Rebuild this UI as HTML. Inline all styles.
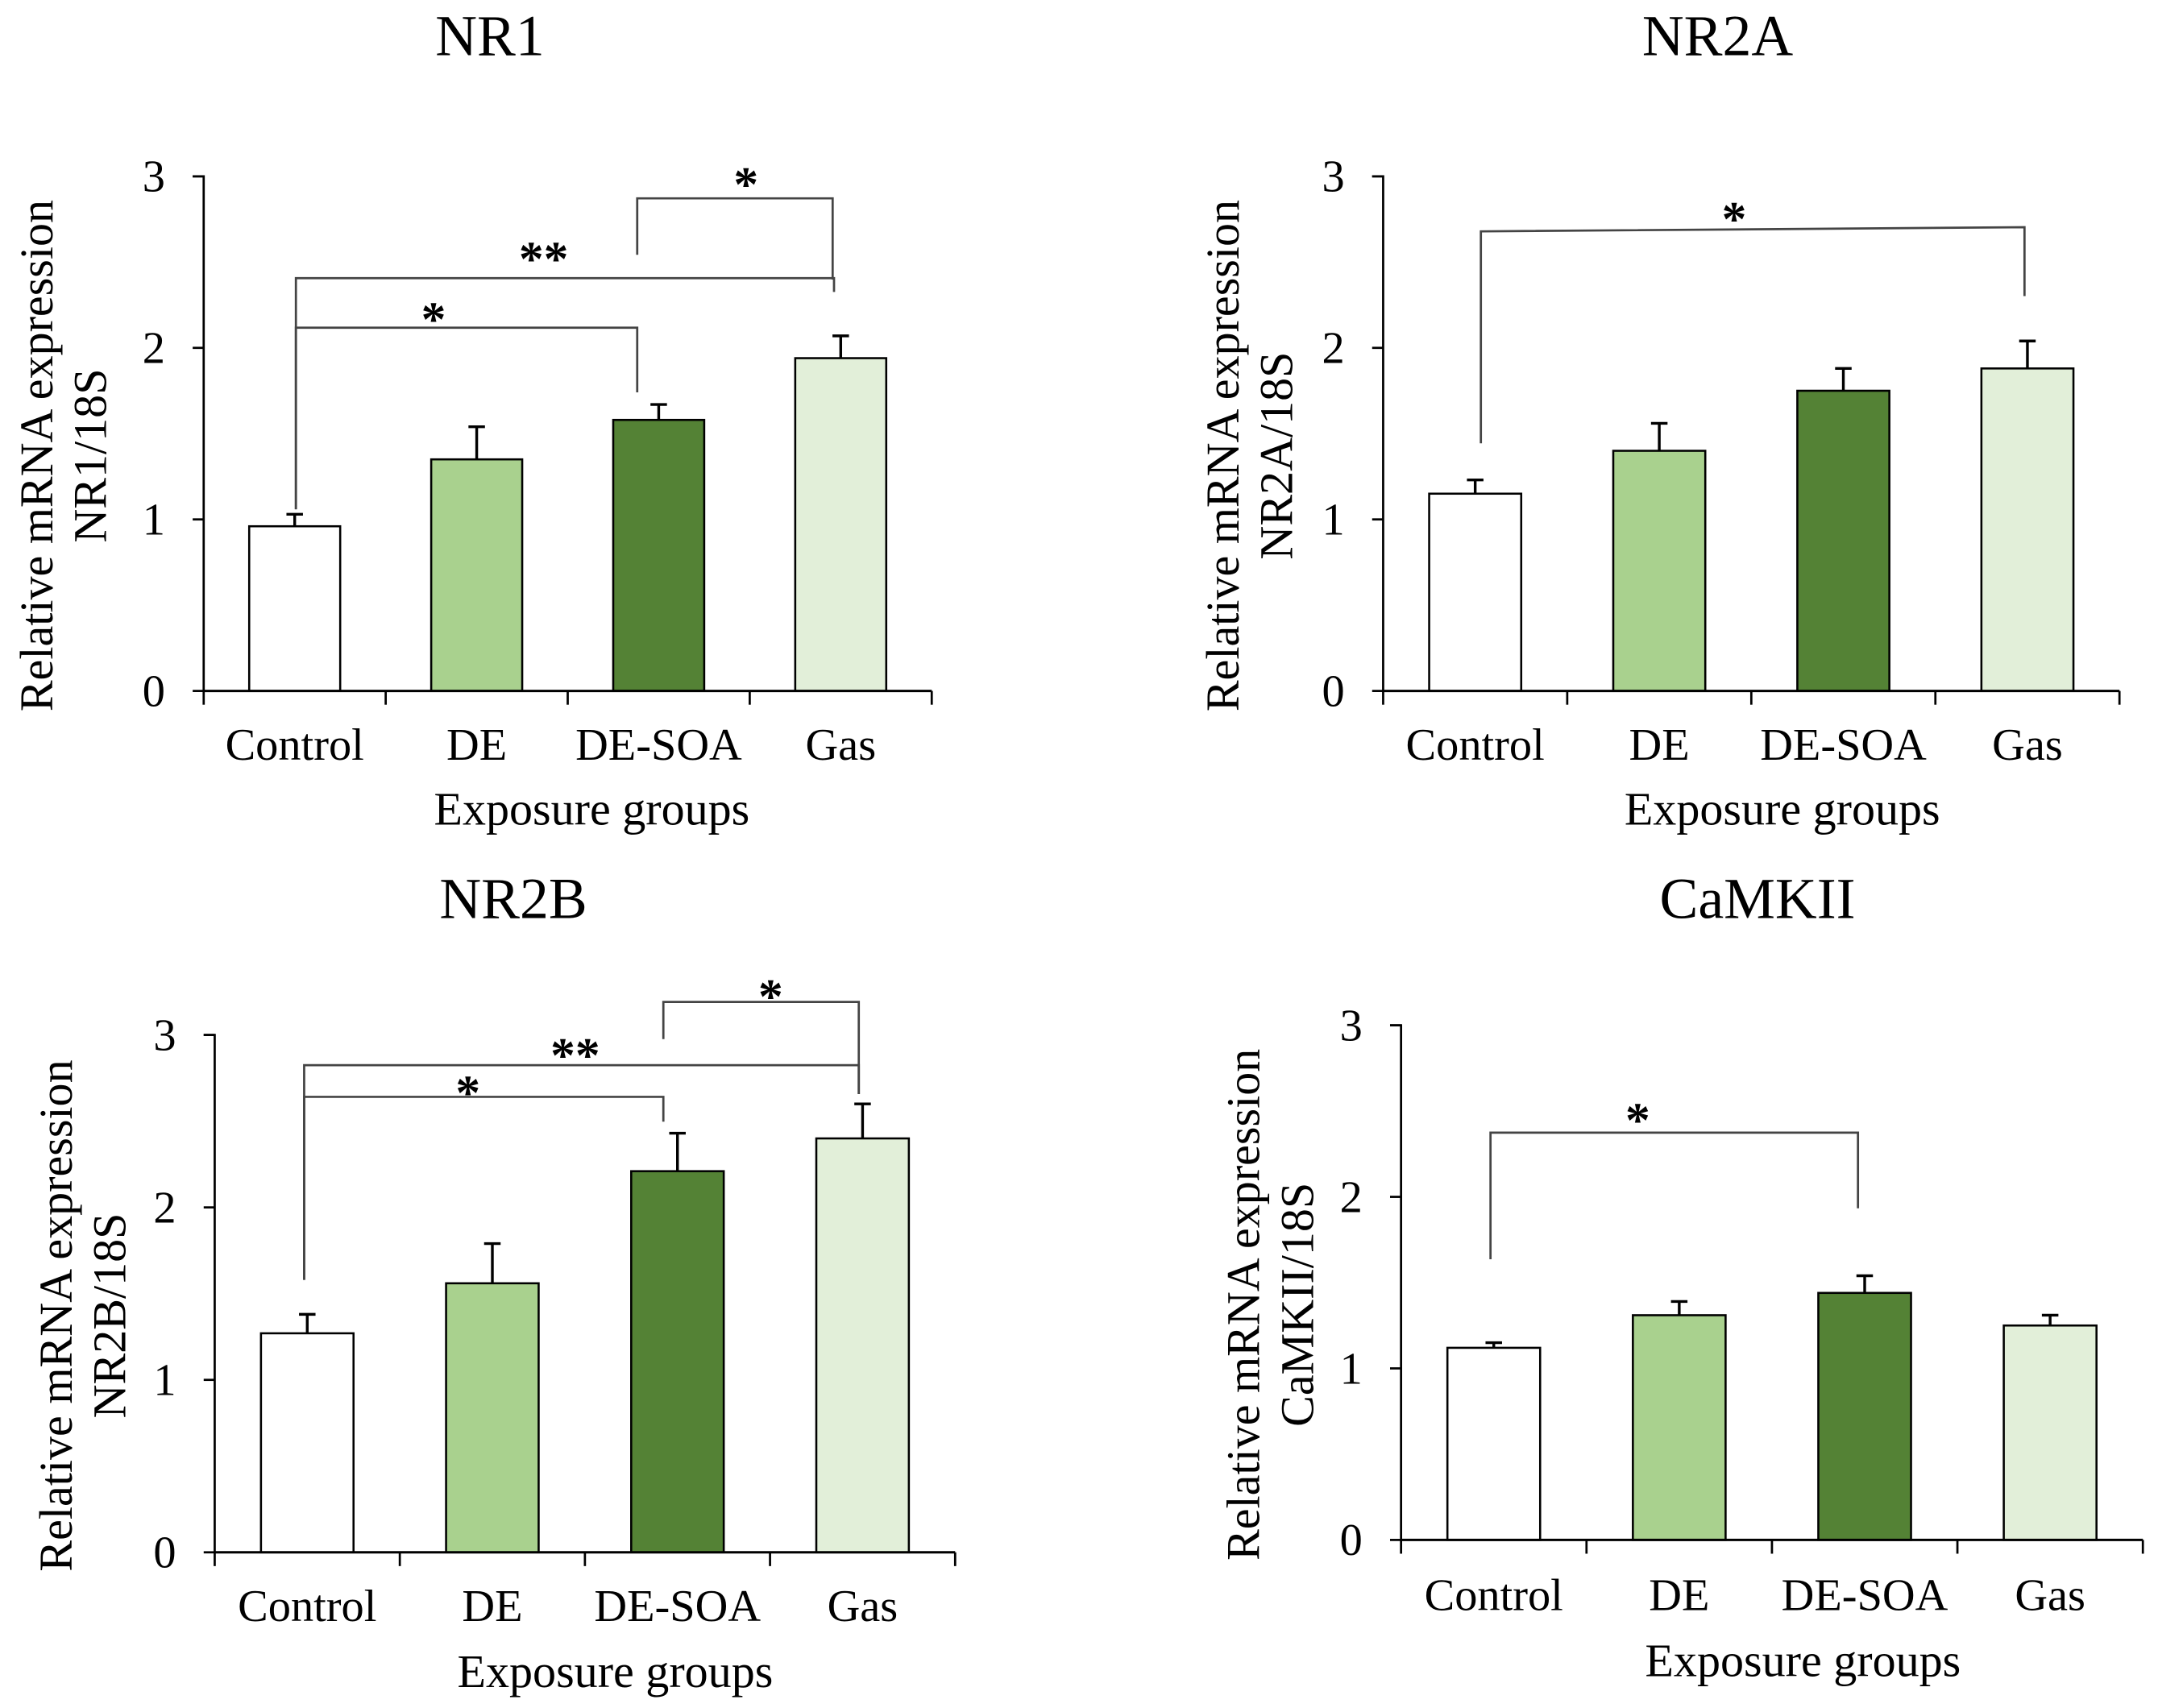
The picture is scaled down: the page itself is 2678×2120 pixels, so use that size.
<!DOCTYPE html>
<html><head><meta charset="utf-8"><style>
html,body{margin:0;padding:0;background:#fff}
svg{display:block}
text{font-family:"Liberation Serif",serif;fill:#000}
</style></head><body>
<svg id="fig" width="2678" height="2120" viewBox="0 0 1568 1241" xmlns="http://www.w3.org/2000/svg"></svg>
<script>
const categories = ["Control","DE","DE-SOA","Gas"];
const nr1Values = [0.96,1.35,1.58,1.94];
const nr1Errors = [1.03,1.54,1.67,2.07];
const nr2aValues = [1.15,1.40,1.75,1.88];
const nr2aErrors = [1.23,1.56,1.88,2.04];
const nr2bValues = [1.27,1.56,2.21,2.40];
const nr2bErrors = [1.38,1.79,2.43,2.60];
const camkiiValues = [1.12,1.31,1.44,1.25];
const camkiiErrors = [1.15,1.39,1.54,1.31];
const yTicks = [0,1,2,3];
const colors = ["#ffffff","#a9d18e","#548235","#e2efd9"];

const NS="http://www.w3.org/2000/svg";
const svg=document.getElementById('fig');
function mk(tag,attrs,parent,txt){const e=document.createElementNS(NS,tag);for(const k in attrs)e.setAttribute(k,attrs[k]);if(txt!==undefined)e.textContent=txt;(parent||svg).appendChild(e);return e;}

const panels=[
 {key:'nr1',title:'NR1',vals:nr1Values,errs:nr1Errors,x0:148,x1:677,y0:502,y3:128,tx:356,ty:40,yl1:38,yl2:77,cy:552,ey:599,ex:430,
  br:[[[215,370],[215,238],[463,238],[463,285]],[[215,370],[215,202],[606,202],[606,212]],[[463,185],[463,144],[605,144],[605,203]]],
  st:[[315,230],[395,186],[542,132]]},
 {key:'nr2a',title:'NR2A',vals:nr2aValues,errs:nr2aErrors,x0:1005,x1:1540,y0:502,y3:128,tx:1248,ty:40,yl1:900,yl2:939,cy:552,ey:599,ex:1295,
  br:[[[1076,322],[1076,168],[1471,165],[1471,215]]],st:[[1260,157]]},
 {key:'nr2b',title:'NR2B',vals:nr2bValues,errs:nr2bErrors,x0:156,x1:694,y0:1128,y3:752,tx:373,ty:667,yl1:52,yl2:91,cy:1178,ey:1226,ex:447,
  br:[[[221,930],[221,797],[482,797],[482,815]],[[221,930],[221,774],[624,774],[624,795]],[[482,755],[482,728],[624,728],[624,795]]],
  st:[[340,792],[418,765],[560,722]]},
 {key:'camkii',title:'CaMKII',vals:camkiiValues,errs:camkiiErrors,x0:1018,x1:1557,y0:1119,y3:745,tx:1277,ty:667,yl1:915,yl2:954,cy:1170,ey:1218,ex:1310,
  br:[[[1083,915],[1083,823],[1350,823],[1350,878]]],st:[[1190,812]]}
];

panels.forEach(p=>{
 const g=mk('g',{});
 
 
 const yS=v=>p.y0-(p.y0-p.y3)*v/3;
 const band=(p.x1-p.x0)/categories.length;
 const bw=band*0.5;
 const t=mk('text',{x:p.tx,y:p.ty,'font-size':42,'text-anchor':'middle'},g,p.title);
 
 p.vals.forEach((v,i)=>{
  const cx=p.x0+band*(i+0.5);
  const eY=yS(p.errs[i]);
  const el=mk('path',{d:`M${cx} ${yS(v)}V${eY}M${cx-6} ${eY}H${cx+6}`,stroke:'#000','stroke-width':2,fill:'none'},g);
  
  
  const r=mk('rect',{x:cx-bw/2,y:yS(v),width:bw,height:yS(0)-yS(v),fill:colors[i],stroke:'#000','stroke-width':1.5},g);
  
  
  const c=mk('text',{x:cx,y:p.cy,'font-size':33,'text-anchor':'middle'},g,categories[i]);
  
 });
 const ya=mk('path',{d:`M${p.x0-8} ${p.y3}H${p.x0}V${p.y0}`,stroke:'#000','stroke-width':1.6,fill:'none'},g);
 
 yTicks.forEach(v=>{
  mk('line',{x1:p.x0-8,x2:p.x0,y1:yS(v),y2:yS(v),stroke:'#000','stroke-width':1.6},g);
  const tl=mk('text',{x:p.x0-28,y:yS(v)+11,'font-size':33,'text-anchor':'end'},g,String(v));
  
 });
 const xa=mk('line',{x1:p.x0,x2:p.x1,y1:p.y0,y2:p.y0,stroke:'#000','stroke-width':1.8},g);
 
 for(let i=0;i<=categories.length;i++){const x=p.x0+band*i;mk('line',{x1:x,x2:x,y1:p.y0,y2:p.y0+10,stroke:'#000','stroke-width':1.6},g);}
 const xt=mk('text',{x:p.ex,y:p.ey,'font-size':34,'text-anchor':'middle'},g,'Exposure groups');
 
 const cyM=(p.y0+p.y3)/2+16;
 const y1=mk('text',{x:0,y:0,'font-size':34,'text-anchor':'middle',transform:`translate(${p.yl1},${cyM}) rotate(-90)`},g,'Relative  mRNA expression');
 
 const y2=mk('text',{x:0,y:0,'font-size':34,'text-anchor':'middle',transform:`translate(${p.yl2},${cyM}) rotate(-90)`},g,p.title+'/18S');
 
 p.br.forEach((b,j)=>{
  const bl=mk('polyline',{points:b.map(q=>q.join(',')).join(' '),stroke:'#444','stroke-width':1.6,fill:'none'},g);
  
  const s=p.st[j];
  const txt=(p.br.length===3&&j===1)?'**':'*';
  const st=mk('text',{x:s[0],y:s[1]+14,'font-size':36,'font-weight':'bold','text-anchor':'middle'},g,txt);
  
 });
});
</script>
</body></html>
